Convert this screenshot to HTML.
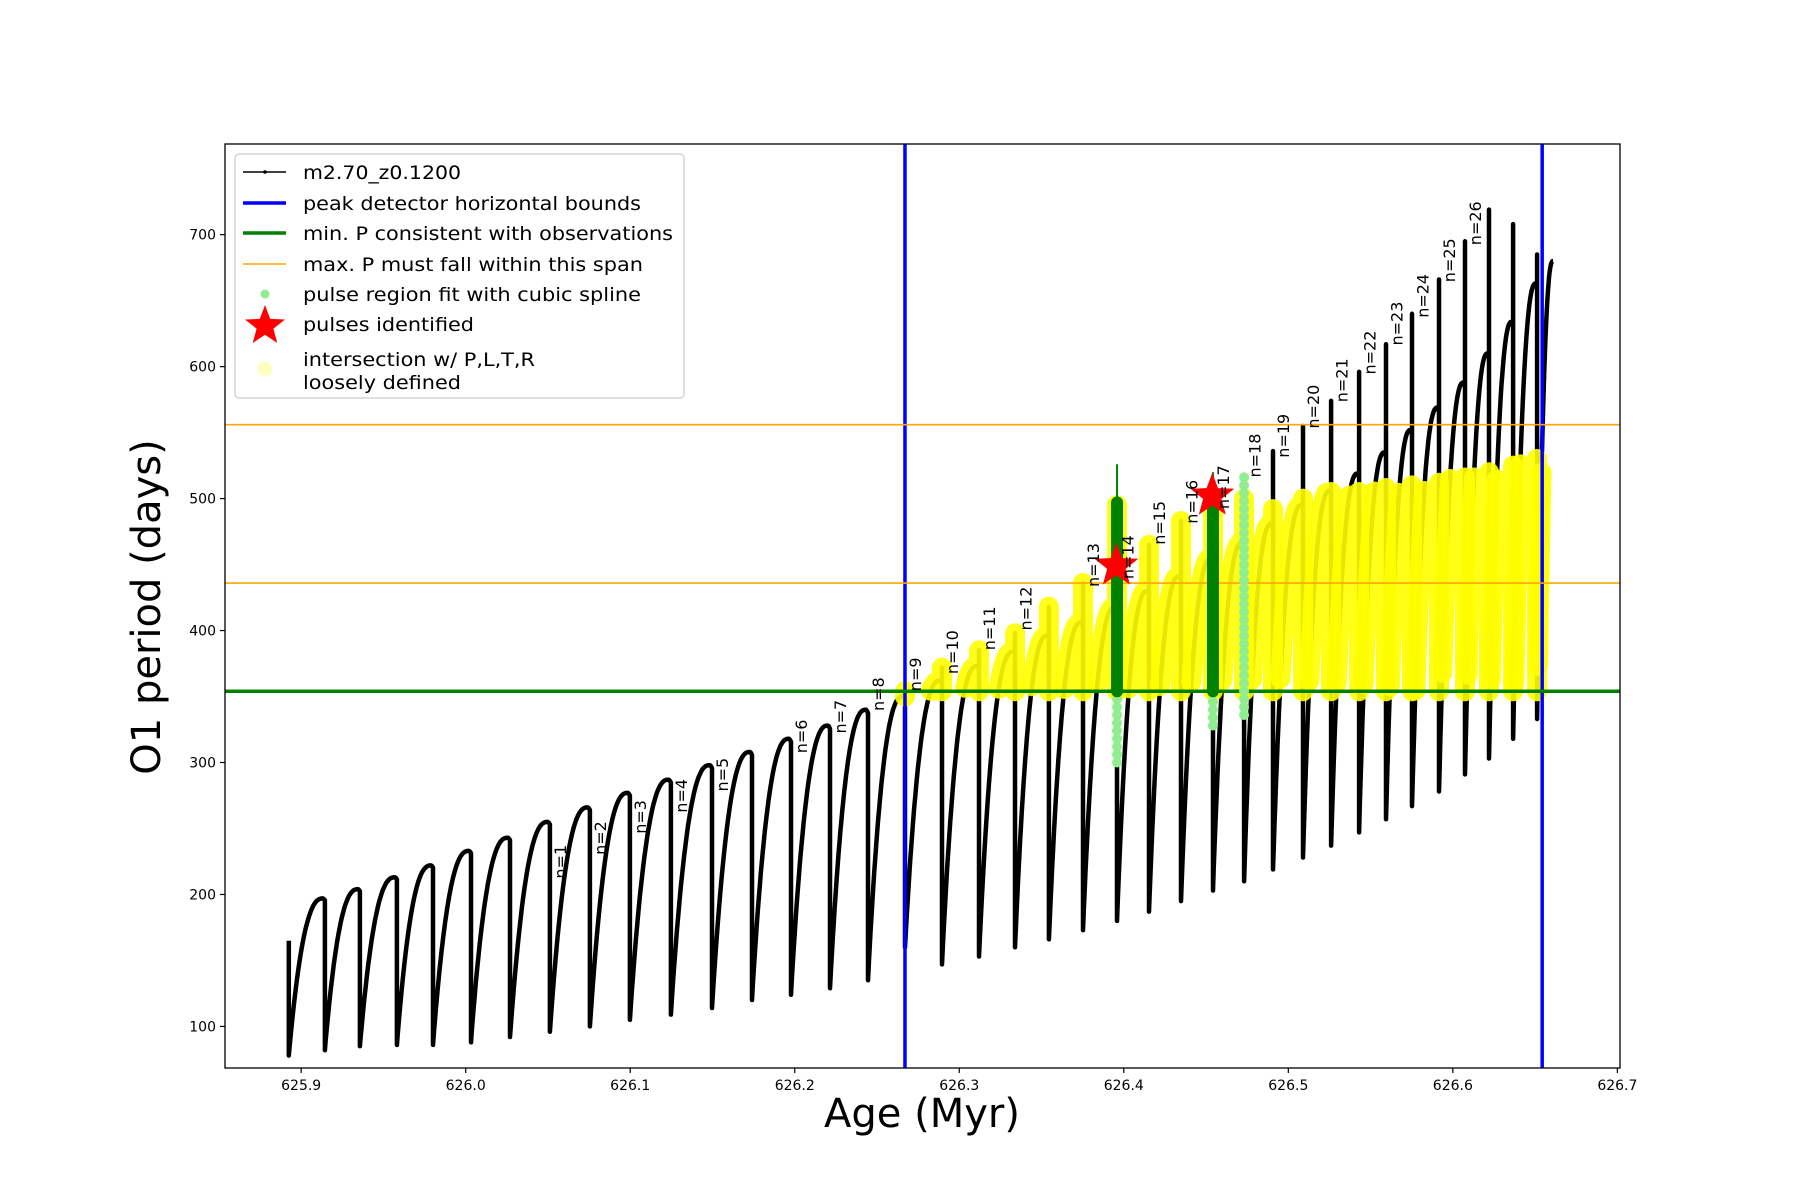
<!DOCTYPE html>
<html><head><meta charset="utf-8"><style>
html,body{margin:0;padding:0;background:#fff}
svg{display:block}
text{font-family:"DejaVu Sans","Liberation Sans",sans-serif}
</style></head><body>
<svg id="chart" width="1800" height="1200" viewBox="0 0 1800 1200" xmlns="http://www.w3.org/2000/svg">
<rect x="0" y="0" width="1800" height="1200" fill="#fff"/>
<defs><clipPath id="plotclip"><rect x="225" y="144" width="1395" height="924"/></clipPath></defs>
<g id="plot" clip-path="url(#plotclip)"></g>
<rect x="225" y="144" width="1395" height="924" fill="none" stroke="#000" stroke-width="1.3"/>
<g id="axes"></g>
<text x="922" y="1127" font-size="40" text-anchor="middle">Age (Myr)</text>
<text transform="translate(160,607) rotate(-90)" font-size="40" text-anchor="middle">O1 period (days)</text>
<g id="legend"></g>
</svg>
<script>
// ---- data ----
const startAge = 625.8925, startP = 165, endAge = 626.6609;
const dropAges = [625.9144,625.9357,625.9582,625.9801,626.0032,626.0269,626.0512,626.0755,626.0998,626.1247,626.1497,626.1740,626.1977,626.2214,626.2445,626.2670,626.2895,626.3120,626.3339,626.3545,626.3752,626.3959,626.4153,626.4348,626.4542,626.4731,626.4907,626.5089,626.5260,626.5430,626.5594,626.5752,626.5916,626.6074,626.6220,626.6366,626.6512];
const peakP = [197,204,213,222,233,243,255,266,277,287,298,308,318,328,340,350,362,373,384,396,406,418,430,441,455,467,481,495,506,519,535,552,569,588,610,634,663,680];
const troughP = [78,82,85,86,86,88,92,96,100,105,109,114,120,124,129,135,160,147,153,160,166,173,180,187,195,203,210,219,228,237,247,257,267,278,291,303,318,333];
const spikeP = [0,0,0,0,0,0,0,0,0,0,0,0,0,0,0,0,372,385,398,418,436,500,465,483,500,518,536,555,574,596,617,640,666,695,719,708,685];
const yellowCap = [0,0,0,0,0,0,0,0,0,0,0,0,0,0,0,360,372,385,398,418,436,495,465,483,495,500,492,500,505,505,508,510,512,516,520,525,530,530];
const labelNames = ["n=1","n=2","n=3","n=4","n=5","n=6","n=7","n=8","n=9","n=10","n=11","n=12","n=13","n=14","n=15","n=16","n=17","n=18","n=19","n=20","n=21","n=22","n=23","n=24","n=25","n=26"];
const labelAges = [626.0562,626.0805,626.1048,626.1297,626.1547,626.2027,626.2264,626.2495,626.2720,626.2945,626.3170,626.3389,626.3802,626.4009,626.4203,626.4398,626.4592,626.4781,626.4957,626.5139,626.5310,626.5480,626.5644,626.5802,626.5966,626.6124];
const labelP = [212,230,246,262,278,307,322,339,354,367,385,400,433,439,465,481,492,516,531,553,573,594,616,637,664,692];
const boundAges = [626.267,626.6543];
const minP = [354];
const maxPSpan = [436,556];
const greenAges = [626.3959,626.4542];
const greenTop = [497,497];
const greenTip = [526,520];
const lightLow = [300,328];
const lightColAge = [626.4731];
const lightColRange = [336,518];
const starAges = [626.3955,626.4538];
const starP = [449,502];
const xTicks = [625.9,626.0,626.1,626.2,626.3,626.4,626.5,626.6,626.7];
const xTickLabels = ["625.9","626.0","626.1","626.2","626.3","626.4","626.5","626.6","626.7"];
const yTicks = [100,200,300,400,500,600,700];
const yTickLabels = ["100","200","300","400","500","600","700"];

// ---- scales ----
const X0=225,X1=1620,Y0=1068,Y1=144;
const xMin=625.8537,xMax=626.7016,yMin=68.5,yMax=768.7;
function xs(a){return X0+(a-xMin)/(xMax-xMin)*(X1-X0);}
function ys(v){return Y0-(v-yMin)/(yMax-yMin)*(Y0-Y1);}
const NS="http://www.w3.org/2000/svg";
function mk(tag,attrs,parent){const e=document.createElementNS(NS,tag);for(const k in attrs)e.setAttribute(k,attrs[k]);parent.appendChild(e);return e;}
const plot=document.getElementById('plot');
const axes=document.getElementById('axes');
const legend=document.getElementById('legend');

function shape(t,last){
  if(last) return 1-Math.pow(1-t,2.4);
  const u=t/0.94;
  if(u<=1) return 1-Math.pow(1-u,2.4);
  return 1-3*(u-1)*(u-1);
}
const nSeg=peakP.length;
const segPts=[];
for(let i=0;i<nSeg;i++){
  const a0=i===0?startAge:dropAges[i-1];
  const a1=i<dropAges.length?dropAges[i]:endAge;
  const last=i>=dropAges.length;
  const pts=[];
  const N=40;
  for(let k=0;k<=N;k++){
    const t=k/N;
    const v=troughP[i]+(peakP[i]-troughP[i])*shape(t,last);
    pts.push([a0+(a1-a0)*t,v]);
  }
  segPts.push(pts);
}
let d='M'+xs(startAge).toFixed(1)+','+ys(startP).toFixed(1);
for(let i=0;i<nSeg;i++){
  segPts[i].forEach(p=>{d+=' L'+xs(p[0]).toFixed(1)+','+ys(p[1]).toFixed(1);});
  if(i<dropAges.length){
    const xa=xs(dropAges[i]).toFixed(1);
    if(spikeP[i]>0) d+=' L'+xa+','+ys(spikeP[i]).toFixed(1);
    d+=' L'+xa+','+ys(troughP[i+1]).toFixed(1);
  }
}
const black=mk('path',{d:d,fill:'none',stroke:'#000','stroke-width':4.5,'stroke-linejoin':'round'},plot);



for(let i=0;i<nSeg;i++){
  const cap=yellowCap[i];
  if(!cap) continue;
  const sel=segPts[i].filter(p=>p[1]>=minP[0]&&p[1]<=cap);
  let yd='';
  sel.forEach((p,k)=>{yd+=(k?' L':'M')+xs(p[0]).toFixed(1)+','+ys(p[1]).toFixed(1);});
  if(i<dropAges.length){
    const top=Math.min(Math.max(peakP[i],spikeP[i]),cap);
    const xa=xs(dropAges[i]).toFixed(1);
    yd+=' M'+xa+','+ys(top).toFixed(1)+' L'+xa+','+ys(minP[0]).toFixed(1);
  }
  if(!yd) continue;
  const yp=mk('path',{d:yd,fill:'none',stroke:'#ffff00','stroke-width':20,'stroke-linecap':'round','stroke-linejoin':'round',opacity:0.9},plot);
  
  
}
boundAges.forEach(a=>{
  const l=mk('line',{x1:xs(a),x2:xs(a),y1:Y1,y2:Y0,stroke:'#0000ff','stroke-width':3.5},plot);
  
  
});
minP.forEach(v=>{
  const l=mk('line',{x1:X0,x2:X1,y1:ys(v),y2:ys(v),stroke:'#008000','stroke-width':3.5},plot);
  
  
});
maxPSpan.forEach(v=>{
  const l=mk('line',{x1:X0,x2:X1,y1:ys(v),y2:ys(v),stroke:'#ffa500','stroke-width':1.6},plot);
  
  
});
greenAges.forEach((a,i)=>{
  const x=xs(a);
  for(let v=lightLow[i];v<minP[0];v+=6){
    const c=mk('circle',{cx:x,cy:ys(v),r:5,fill:'#90ee90'},plot);
    
    
  }
  const t=mk('line',{x1:x,x2:x,y1:ys(greenTop[i]),y2:ys(greenTip[i]),stroke:'#008000','stroke-width':2},plot);
  
  
  const g=mk('line',{x1:x,x2:x,y1:ys(minP[0]),y2:ys(greenTop[i]),stroke:'#008000','stroke-width':12,'stroke-linecap':'round'},plot);
  
  
});
lightColAge.forEach(a=>{
  for(let v=lightColRange[0];v<=lightColRange[1];v+=6){
    const c=mk('circle',{cx:xs(a),cy:ys(v),r:5,fill:'#90ee90'},plot);
    
    
  }
});
function starPath(cx,cy,R){
  const r=R*0.42;let p='';
  for(let k=0;k<10;k++){const ang=-Math.PI/2+k*Math.PI/5;const rr=k%2?r:R;p+=(k?'L':'M')+(cx+rr*Math.cos(ang)).toFixed(1)+','+(cy+rr*Math.sin(ang)).toFixed(1);}
  return p+'Z';
}
starAges.forEach((a,i)=>{
  const s=mk('path',{d:starPath(xs(a),ys(starP[i]),23),fill:'#ff0000'},plot);
  
  
});
labelNames.forEach((n,i)=>{
  const x=xs(labelAges[i]),y=ys(labelP[i]);
  const t=mk('text',{transform:'translate('+(x+8).toFixed(1)+','+y.toFixed(1)+') rotate(-90)','font-size':16,fill:'#000'},plot);
  t.textContent=n;
  
  
});
xTicks.forEach((v,i)=>{
  const x=xs(v);
  const l=mk('line',{x1:x,x2:x,y1:Y0,y2:Y0+5,stroke:'#000','stroke-width':1.2},axes);
  
  
  const t=mk('text',{x:x,y:Y0+22,'font-size':14,'text-anchor':'middle'},axes);
  t.textContent=xTickLabels[i];
  
  
});
yTicks.forEach((v,i)=>{
  const y=ys(v);
  const l=mk('line',{x1:X0-5,x2:X0,y1:y,y2:y,stroke:'#000','stroke-width':1.2},axes);
  
  
  const t=mk('text',{x:X0-9,y:y+5,'font-size':14,'text-anchor':'end'},axes);
  t.textContent=yTickLabels[i];
  
  
});
const box=mk('rect',{x:235,y:154,width:449,height:244,rx:4,fill:'#fff','fill-opacity':0.85,stroke:'#cccccc','stroke-width':1.2},legend);


const legendTexts=["m2.70_z0.1200","peak detector horizontal bounds","min. P consistent with observations","max. P must fall within this span","pulse region fit with cubic spline","pulses identified"];
const legendLens=[158,338,370,340,338,171];
const rowY=[172,203,233,264,294,324];
legendTexts.forEach((s,i)=>{
  const t=mk('text',{x:303,y:rowY[i]+7,'font-size':19,textLength:legendLens[i],lengthAdjust:'spacingAndGlyphs'},legend);
  t.textContent=s;
  
  
});
let h;
h=mk('line',{x1:243,x2:286,y1:rowY[0],y2:rowY[0],stroke:'#000','stroke-width':1.6},legend);

h=mk('circle',{cx:265,cy:rowY[0],r:1.8,fill:'#000'},legend);

h=mk('line',{x1:243,x2:286,y1:rowY[1],y2:rowY[1],stroke:'#0000ff','stroke-width':3.5},legend);

h=mk('line',{x1:243,x2:286,y1:rowY[2],y2:rowY[2],stroke:'#008000','stroke-width':3.5},legend);

h=mk('line',{x1:243,x2:286,y1:rowY[3],y2:rowY[3],stroke:'#ffa500','stroke-width':1.6},legend);

h=mk('circle',{cx:265,cy:rowY[4],r:4.5,fill:'#90ee90'},legend);

h=mk('path',{d:starPath(265,rowY[5]+2,21),fill:'#ff0000'},legend);

h=mk('circle',{cx:265,cy:369,r:7.5,fill:'#ffffb0',opacity:0.8},legend);

let t2=mk('text',{x:303,y:366,'font-size':19,textLength:232,lengthAdjust:'spacingAndGlyphs'},legend);
t2.textContent="intersection w/ P,L,T,R";

t2=mk('text',{x:303,y:389,'font-size':19,textLength:158,lengthAdjust:'spacingAndGlyphs'},legend);
t2.textContent="loosely defined";

</script>
</body></html>
